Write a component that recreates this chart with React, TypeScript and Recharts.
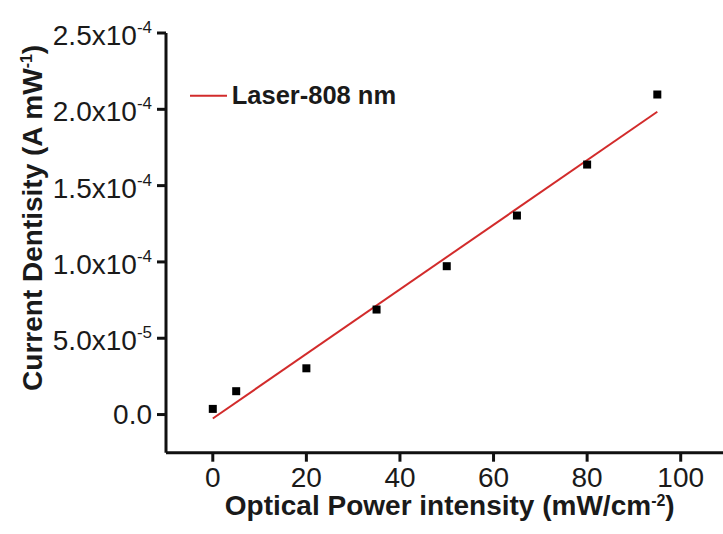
import React from 'react';
import { ComposedChart, XAxis, YAxis, Scatter, Line, Legend } from 'recharts';

// ---- data ----
const powerIntensity = [0, 5, 20, 35, 50, 65, 80, 95];
const currentDensity = [3.7e-6, 1.53e-5, 3.03e-5, 6.88e-5, 9.72e-5, 1.304e-4, 1.638e-4, 2.097e-4];
const fitX = [0, 95];
const fitY = [-2.6e-6, 1.984e-4];
const xTicks = [0, 20, 40, 60, 80, 100];
const yTicks = [0, 5e-5, 1e-4, 1.5e-4, 2e-4, 2.5e-4];
const yTickMains = ['0.0', '5.0x10', '1.0x10', '1.5x10', '2.0x10', '2.5x10'];
const yTickExps = ['', '-5', '-4', '-4', '-4', '-4'];
const seriesName = 'Laser-808 nm';
const xTitle = 'Optical Power intensity (mW/cm';
const xTitleExp = '-2';
const yTitle = 'Current Dentisity (A mW';
const yTitleExp = '-1';

const points = powerIntensity.map((x, i) => ({ x, y: currentDensity[i] }));
const fitData = fitX.map((x, i) => ({ x, y: fitY[i] }));

const FONT = '"Liberation Sans", Arial, sans-serif';
const INK = '#1a1a1a';
const RED = '#d22b2b';
const AXIS = { stroke: '#111', strokeWidth: 3 };

function YTick(props: any) {
  const { x, y, payload, index } = props;
  let i = yTicks.indexOf(payload.value);
  if (i < 0) i = index;
  const exp = yTickExps[i];
  return (
    <text x={x} y={y + (exp ? 12 : 9)} textAnchor="end" fontSize={28} fontFamily={FONT} fill={INK}>
      {yTickMains[i]}
      {exp ? (
        <tspan dy={-12} fontSize={17}>
          {exp}
        </tspan>
      ) : null}
    </text>
  );
}

function XTitle(props: any) {
  const vb = props.viewBox || { x: 166, y: 452.7, width: 561.5, height: 81 };
  return (
    <text x={vb.x + vb.width / 2 + 3} y={vb.y + 62} textAnchor="middle" fontSize={28} fontWeight="bold" fontFamily={FONT} fill={INK}>
      {xTitle}
      <tspan dy={-9} fontSize={16}>{xTitleExp}</tspan>
      <tspan dy={9}>)</tspan>
    </text>
  );
}

function YTitle(props: any) {
  const vb = props.viewBox || { x: 0, y: 33, width: 166, height: 419.7 };
  const cx = vb.x + 42;
  const cy = vb.y + vb.height / 2 - 25;
  return (
    <text x={cx} y={cy} transform={`rotate(-90, ${cx}, ${cy})`} textAnchor="middle" fontSize={28} fontWeight="bold" fontFamily={FONT} fill={INK}>
      {yTitle}
      <tspan dy={-10} fontSize={16}>{yTitleExp}</tspan>
      <tspan dy={10}>)</tspan>
    </text>
  );
}

function SquareDot(props: any) {
  const { cx, cy } = props;
  return <rect x={cx - 4} y={cy - 4} width={8} height={8} fill="#000" />;
}

function LegendBox() {
  return (
    <svg width={240} height={40} style={{ display: 'block' }}>
      <line x1={2} y1={19.7} x2={39} y2={19.7} stroke={RED} strokeWidth={2} />
      <text x={43.7} y={27.5} fontSize={25.5} fontWeight="bold" fontFamily={FONT} fill={INK}>
        {seriesName}
      </text>
    </svg>
  );
}

export default function App() {
  return (
    <div style={{ position: 'absolute', left: 0, top: 0, width: 723, height: 534, overflow: 'hidden', background: '#fff' }}>
      <ComposedChart width={730} height={534} margin={{ top: 33, right: 2.5, left: 0, bottom: 0.3 }}>
        <XAxis
          type="number"
          dataKey="x"
          domain={[-10, 110]}
          ticks={xTicks}
          allowDataOverflow
          height={81}
          tickSize={9}
          tickMargin={5}
          axisLine={AXIS}
          tickLine={AXIS}
          tick={{ fontSize: 28, fontFamily: FONT, fill: INK }}
          label={{ content: (p: any) => <XTitle {...p} /> }}
        />
        <XAxis xAxisId="top" orientation="top" type="number" domain={[-10, 110]} height={0} tick={false} tickLine={false} axisLine={AXIS} />
        <YAxis
          type="number"
          dataKey="y"
          domain={[-2.5e-5, 2.5e-4]}
          ticks={yTicks}
          allowDataOverflow
          width={166}
          tickSize={9}
          tickMargin={5}
          axisLine={AXIS}
          tickLine={AXIS}
          tick={<YTick />}
          label={{ content: (p: any) => <YTitle {...p} /> }}
        />
        <YAxis yAxisId="r" orientation="right" type="number" domain={[0, 1]} width={0} tick={false} tickLine={false} axisLine={AXIS} />
        <Line data={fitData} dataKey="y" type="linear" stroke={RED} strokeWidth={2} dot={false} activeDot={false} isAnimationActive={false} legendType="line" />
        <Scatter data={points} dataKey="y" fill="#000" shape={<SquareDot />} isAnimationActive={false} legendType="none" />
        <Legend
          layout="horizontal"
          verticalAlign="middle"
          align="center"
          wrapperStyle={{ left: 188, top: 76, width: 240, height: 40 }}
          content={() => <LegendBox />}
        />
      </ComposedChart>
    </div>
  );
}
